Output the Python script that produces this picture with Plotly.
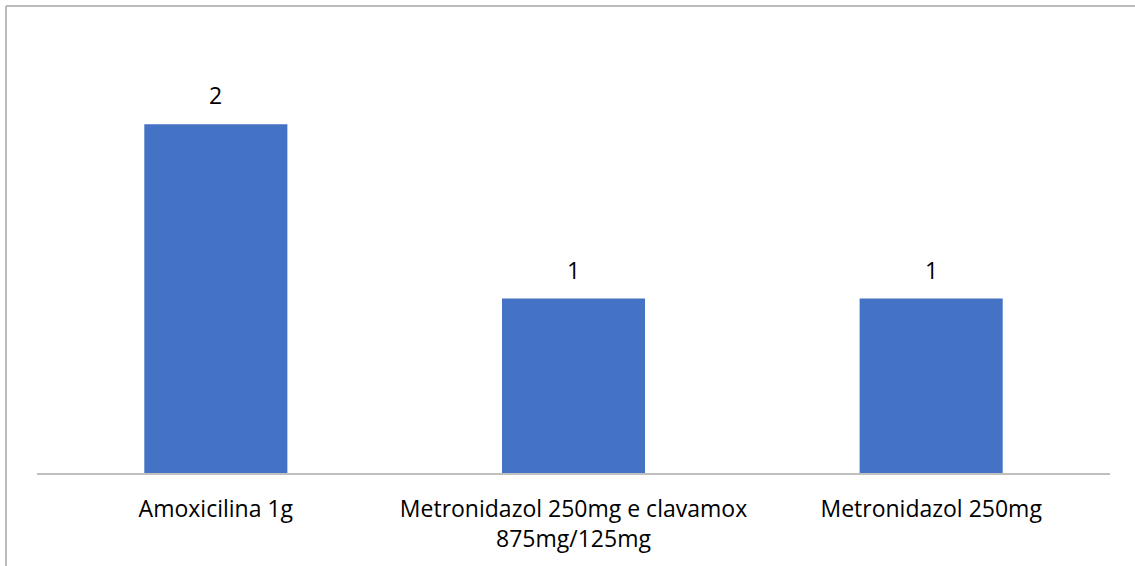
import plotly.graph_objects as go

categories = ["Amoxicilina 1g", "Metronidazol 250mg e clavamox<br>875mg/125mg", "Metronidazol 250mg"]
values = [2, 1, 1]

BAR_COLOR = "#4472C4"
FONT = "Open Sans"
FSIZE = 23

fig = go.Figure(
    go.Bar(
        x=categories,
        y=values,
        marker=dict(color=BAR_COLOR, line=dict(width=0)),
        width=0.4,
        hoverinfo="skip",
    )
)

# value labels above each bar
for c, v in zip(categories, values):
    fig.add_annotation(
        x=c, y=v, text=str(v), showarrow=False,
        yanchor="bottom", yshift=11,
        font=dict(family=FONT, size=FSIZE, color="#000000"),
    )

# chart-area border (top and left edges visible)
W, H = 1135, 566
ml, mr, mt, mb = 37, 25, 37, 93
pw, ph = W - ml - mr, H - mt - mb
bx = (6 - ml) / pw
by = 1 + (mt - 6) / ph
fig.add_shape(type="line", xref="paper", yref="paper", x0=bx, x1=1.1, y0=by, y1=by,
              line=dict(color="#A6A6A6", width=1.5))
fig.add_shape(type="line", xref="paper", yref="paper", x0=bx, x1=bx, y0=by, y1=-0.3,
              line=dict(color="#A6A6A6", width=1.5))

fig.update_layout(
    width=W, height=H,
    margin=dict(l=ml, r=mr, t=mt, b=mb),
    paper_bgcolor="white", plot_bgcolor="white",
    showlegend=False,
    font=dict(family=FONT, size=FSIZE, color="#000000"),
    xaxis=dict(
        showline=True, linecolor="#BFBFBF", linewidth=1.5,
        ticks="", showgrid=False, zeroline=False,
        tickfont=dict(family=FONT, size=FSIZE, color="#000000"),
        ticklabelstandoff=15,
    ),
    yaxis=dict(
        range=[0, 2.5], visible=False, showgrid=False, zeroline=False,
    ),
)

fig.write_html("out.html")
